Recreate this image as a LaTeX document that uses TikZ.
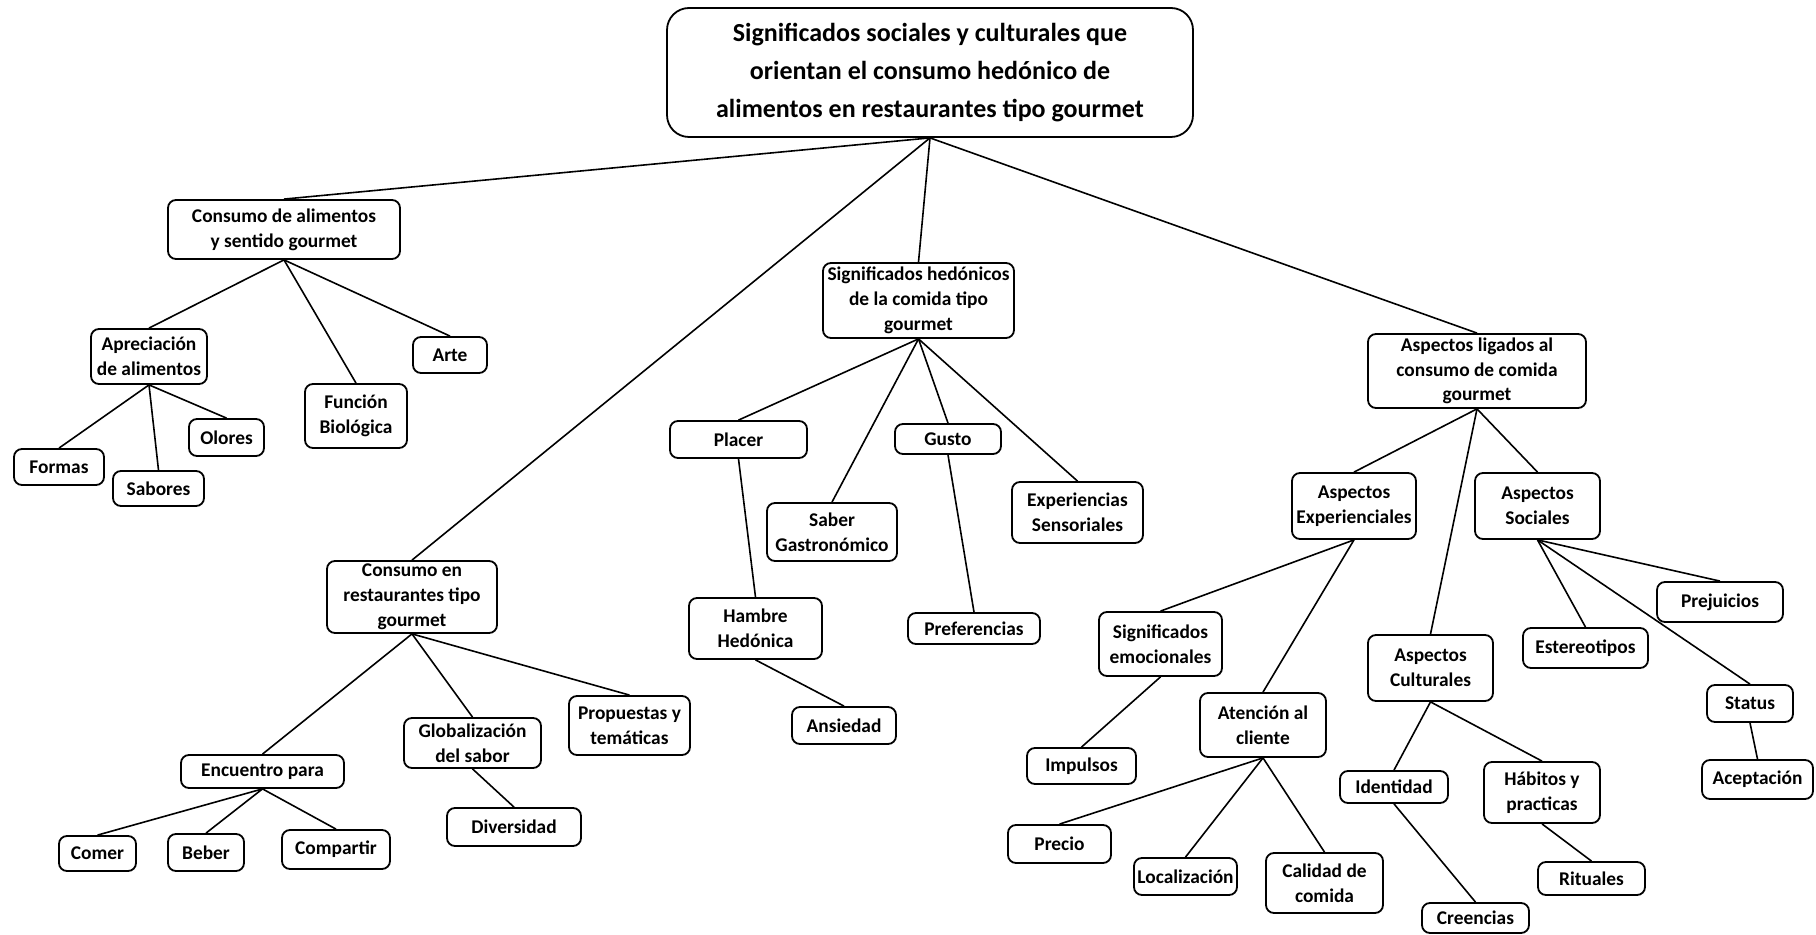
\documentclass[tikz,border=0pt]{standalone}
\usepackage{fontspec}
\setmainfont{Carlito}
\begin{document}
\begin{tikzpicture}[x=0.5pt,y=-0.5pt,
  box/.style={draw=black, line width=0.9pt, rounded corners=4pt, align=center,
    inner xsep=1pt, inner ysep=0pt, font=\fontsize{9.7}{12.4}\selectfont\bfseries},
  titlebox/.style={draw=black, line width=0.9pt, rounded corners=11pt, align=center,
    inner sep=0pt, font=\fontsize{13}{19}\selectfont\bfseries},
  link/.style={draw=black, line width=0.8pt}]
\useasboundingbox (0,0) rectangle (1816,935);
\fill[white] (0,0) rectangle (1816,935);

% title
\node[titlebox, minimum width=263pt, minimum height=64.5pt] (title) at (930,72.5)
  {Significados sociales y culturales que\\orientan el consumo hedónico de\\alimentos en restaurantes tipo gourmet};

% branch 1
\node[box, minimum width=116pt, minimum height=29.5pt] (ca) at (284,229.5) {Consumo de alimentos\\y sentido gourmet};
\node[box, minimum width=58pt, minimum height=27.5pt] (ap) at (149,356.5) {Apreciación\\de alimentos};
\node[box, minimum width=51pt, minimum height=32pt] (fb) at (356,416) {Función\\Biológica};
\node[box, minimum width=37pt, minimum height=18pt] (arte) at (450,355) {Arte};
\node[box, minimum width=37.5pt, minimum height=18.5pt] (olo) at (226.5,437.5) {Olores};
\node[box, minimum width=45pt, minimum height=18pt] (for) at (59,467) {Formas};
\node[box, minimum width=45.5pt, minimum height=17.5pt] (sab) at (158.5,488.5) {Sabores};

% branch 2
\node[box, minimum width=85pt, minimum height=36pt] (cr) at (412,597) {Consumo en\\restaurantes tipo\\gourmet};
\node[box, minimum width=81.5pt, minimum height=16.5pt] (enc) at (262.5,771.5) {Encuentro para};
\node[box, minimum width=38.5pt, minimum height=17.5pt] (com) at (97.5,853.5) {Comer};
\node[box, minimum width=38pt, minimum height=18.5pt] (beb) at (206,852.5) {Beber};
\node[box, minimum width=54pt, minimum height=19.5pt] (cmp) at (336,849.5) {Compartir};
\node[box, minimum width=68.5pt, minimum height=25pt] (glo) at (472.5,743) {Globalización\\del sabor};
\node[box, minimum width=67pt, minimum height=19pt] (div) at (514,827) {Diversidad};
\node[box, minimum width=60.5pt, minimum height=29.5pt] (pt) at (629.5,725.5) {Propuestas y\\temáticas};

% branch 3
\node[box, minimum width=95.5pt, minimum height=37.5pt] (sh) at (918.5,300.5) {Significados hedónicos\\de la comida tipo\\gourmet};
\node[box, minimum width=68.5pt, minimum height=18.5pt] (pla) at (738.5,439.5) {Placer};
\node[box, minimum width=53pt, minimum height=15pt] (gus) at (948,439) {Gusto};
\node[box, minimum width=65pt, minimum height=29pt] (sabg) at (832,532) {Saber\\Gastronómico};
\node[box, minimum width=65.5pt, minimum height=30.5pt] (exs) at (1077.5,512.5) {Experiencias\\Sensoriales};
\node[box, minimum width=66.5pt, minimum height=30.5pt] (ham) at (755.5,628.5) {Hambre\\Hedónica};
\node[box, minimum width=52pt, minimum height=18.5pt] (ans) at (844,725.5) {Ansiedad};
\node[box, minimum width=66pt, minimum height=15.5pt] (prf) at (974,628.5) {Preferencias};

% branch 4
\node[box, minimum width=109pt, minimum height=37pt] (al) at (1477,371) {Aspectos ligados al\\consumo de comida\\gourmet};
\node[box, minimum width=62pt, minimum height=33pt] (ae) at (1354,506) {Aspectos\\Experienciales};
\node[box, minimum width=62.5pt, minimum height=33pt] (as) at (1537.5,506) {Aspectos\\Sociales};
\node[box, minimum width=61.5pt, minimum height=32pt] (se) at (1160.5,644) {Significados\\emocionales};
\node[box, minimum width=54.5pt, minimum height=18pt] (imp) at (1081.5,766) {Impulsos};
\node[box, minimum width=63pt, minimum height=32pt] (atc) at (1263,725) {Atención al\\cliente};
\node[box, minimum width=51.5pt, minimum height=19pt] (pre) at (1059.5,844) {Precio};
\node[box, minimum width=51.5pt, minimum height=18.5pt] (loc) at (1185.5,876.5) {Localización};
\node[box, minimum width=58.5pt, minimum height=30pt] (cal) at (1324.5,883) {Calidad de\\comida};
\node[box, minimum width=62.5pt, minimum height=33pt] (acu) at (1430.5,668) {Aspectos\\Culturales};
\node[box, minimum width=54pt, minimum height=16pt] (ide) at (1394,787) {Identidad};
\node[box, minimum width=58pt, minimum height=30.5pt] (hab) at (1542,792.5) {Hábitos y\\practicas};
\node[box, minimum width=53.5pt, minimum height=15pt] (cre) at (1475.5,918) {Creencias};
\node[box, minimum width=53.5pt, minimum height=16.5pt] (rit) at (1591.5,878.5) {Rituales};
\node[box, minimum width=62.5pt, minimum height=20pt] (est) at (1585.5,648) {Estereotipos};
\node[box, minimum width=63pt, minimum height=20pt] (prj) at (1720,602) {Prejuicios};
\node[box, minimum width=43pt, minimum height=18.5pt] (sta) at (1750,703.5) {Status};
\node[box, minimum width=55.5pt, minimum height=19.5pt] (acp) at (1757.5,779.5) {Aceptación};

% connectors
\foreach \p/\c in {title/ca, title/cr, title/sh, title/al,
  ca/ap, ca/fb, ca/arte, ap/for, ap/sab, ap/olo,
  cr/enc, cr/glo, cr/pt, enc/com, enc/beb, enc/cmp, glo/div,
  sh/pla, sh/sabg, sh/gus, sh/exs, pla/ham, ham/ans, gus/prf,
  al/ae, al/acu, al/as, ae/se, ae/atc, se/imp, atc/pre, atc/loc, atc/cal,
  acu/ide, acu/hab, ide/cre, hab/rit, as/est, as/prj, as/sta, sta/acp}
  \draw[link] (\p.south) -- (\c.north);
\end{tikzpicture}
\end{document}
